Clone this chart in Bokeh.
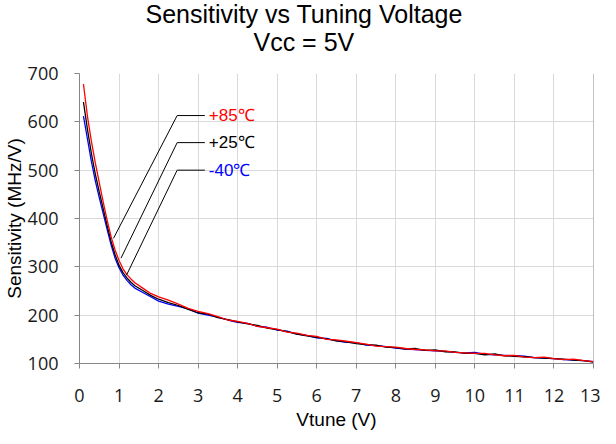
from bokeh.plotting import figure
from bokeh.models import Label, Span, FixedTicker, Range1d, Title
from bokeh.embed import file_html
from bokeh.resources import INLINE

# ---- data ----
vtune = [0.1, 0.2, 0.3, 0.4, 0.5, 0.6, 0.7, 0.8, 0.9, 1.0, 1.1, 1.2, 1.3, 1.4,
         1.6, 1.8, 2.0, 2.25,
         2.5, 2.75, 3.0, 3.25, 3.5, 3.75, 4.0, 4.25, 4.5, 4.75,
         5.0, 5.25, 5.5, 5.75, 6.0, 6.25, 6.5, 6.75, 7.0, 7.25,
         7.5, 7.75, 8.0, 8.25, 8.5, 8.75, 9.0, 9.25, 9.5, 9.75,
         10.0, 10.25, 10.5, 10.75, 11.0, 11.25, 11.5, 11.75, 12.0, 12.25,
         12.5, 12.75, 13.0]

sens_p85 = [678, 612, 560, 515, 474, 434, 396, 362, 335, 313, 296, 284, 275, 267,
            256, 245, 238, 231,
            223, 214, 208, 203, 197, 190, 187, 183, 177, 174,
            171, 165, 163, 158, 156, 150, 149, 146, 143, 140,
            136, 135, 134, 131, 129, 128, 126, 126, 123, 122,
            121, 121, 118, 116, 117, 113, 112, 113, 110, 108,
            109, 106, 104]

sens_p25 = [641, 585, 535, 492, 455, 420, 385, 352, 325, 303, 288, 277, 268, 261,
            251, 241, 233, 226,
            220, 212, 205, 202, 195, 191, 186, 182, 179, 173,
            170, 166, 161, 157, 154, 151, 147, 145, 141, 139,
            138, 134, 133, 130, 131, 127, 128, 124, 124, 121,
            121, 118, 120, 116, 115, 114, 112, 111, 110, 109,
            107, 106, 103]

sens_m40 = [612, 565, 518, 478, 443, 410, 377, 345, 318, 298, 283, 272, 263, 256,
            247, 238, 229, 223,
            218, 213, 204, 200, 196, 190, 185, 183, 177, 175,
            169, 167, 161, 158, 153, 152, 147, 144, 143, 138,
            137, 135, 132, 130, 129, 127, 126, 125, 123, 122,
            123, 119, 118, 117, 116, 115, 112, 111, 110, 108,
            107, 106, 104]

x_ticks = list(range(0, 14))
y_ticks = [100, 200, 300, 400, 500, 600, 700]

labels = ["+85\u2103", "+25\u2103", "-40\u2103"]
label_colors = ["#FF0000", "#000000", "#0000FF"]
anchor_x = [0.86, 1.05, 1.19]
anchor_y = [359, 318, 283]
elbow_x = 2.47
end_x = 3.17
level_y = [613, 557, 500]

title1 = "Sensitivity vs Tuning Voltage"
title2 = "Vcc = 5V"

# ---- figure ----
p = figure(width=600, height=440,
           x_range=Range1d(0, 13), y_range=Range1d(100, 700),
           output_backend="svg", toolbar_location=None,
           min_border_left=77, min_border_right=7,
           min_border_top=73, min_border_bottom=77)
p.outline_line_color = None
p.background_fill_color = "white"
p.border_fill_color = "white"

# p.title is the outermost line; added panels stack outward from the plot
p.title.text = title1
p.title.align = "left"
p.title.offset = 66
p.title.text_font = "Liberation Sans"
p.title.text_font_size = "25px"
p.title.text_font_style = "normal"
p.title.text_color = "#000000"
p.title.standoff = -5
# small spacer between the subtitle and the plot area (closest to the plot)
p.add_layout(Title(text=" ", align="left", text_font_size="1px", standoff=15), "above")
p.add_layout(Title(text=title2, align="left", offset=174, text_font="Liberation Sans",
                   text_font_size="25px", text_font_style="normal",
                   text_color="#000000", standoff=0), "above")

p.xaxis.ticker = FixedTicker(ticks=x_ticks)
p.yaxis.ticker = FixedTicker(ticks=y_ticks)
for ax in (p.xaxis, p.yaxis):
    ax.axis_line_color = "#868686"
    ax.major_tick_line_color = "#868686"
    ax.major_tick_in = 0
    ax.major_tick_out = 5
    ax.minor_tick_line_color = None
    ax.major_label_text_font = "Open Sans"
    ax.major_label_text_font_size = "18px"
    ax.major_label_text_color = "#1a1a1a"
    ax.axis_label_text_font = "Liberation Sans"
    ax.axis_label_text_font_size = "19px"
    ax.axis_label_text_font_style = "normal"
    ax.axis_label_text_color = "#000000"

p.xaxis.axis_label = "Vtune (V)"
p.yaxis.axis_label = "Sensitivity (MHz/V)"
p.xaxis.major_label_standoff = 20
p.xaxis.axis_label_standoff = 4
p.yaxis.major_label_standoff = 16
p.yaxis.axis_label_standoff = 0

p.xgrid.grid_line_color = "#D9D9D9"
p.ygrid.grid_line_color = "#D9D9D9"

p.add_layout(Span(location=13, dimension="height", line_color="#868686", line_width=1))

p.line(vtune, sens_m40, line_color="#0000FF", line_width=1.3)
p.line(vtune, sens_p25, line_color="#000000", line_width=1.3)
p.line(vtune, sens_p85, line_color="#FF0000", line_width=1.3)

for i in range(3):
    p.line([anchor_x[i], elbow_x, end_x], [anchor_y[i], level_y[i], level_y[i]],
           line_color="#000000", line_width=1)
    p.add_layout(Label(x=end_x + 0.1, y=level_y[i], text=labels[i],
                       text_color=label_colors[i], text_font="Liberation Sans",
                       text_font_size="17px", text_baseline="middle", text_align="left"))

open("out.html", "w").write(file_html(p, INLINE))
